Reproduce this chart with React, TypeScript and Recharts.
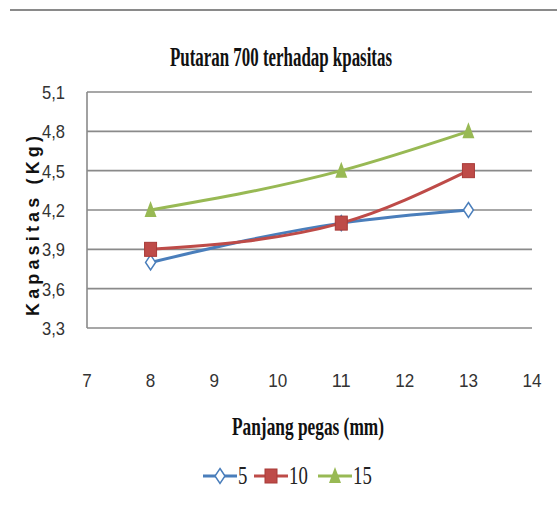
import React from 'react'
import { LineChart, Line, XAxis, YAxis, CartesianGrid, Legend } from 'recharts'

const xValues = [8, 11, 13]
const seriesNames = ['5', '10', '15']
const kapasitas5 = [3.8, 4.1, 4.2]
const kapasitas10 = [3.9, 4.1, 4.5]
const kapasitas15 = [4.2, 4.5, 4.8]
const xTicks = [7, 8, 9, 10, 11, 12, 13, 14]
const yTicks = [3.3, 3.6, 3.9, 4.2, 4.5, 4.8, 5.1]

const BLUE = '#4a7ebb'
const RED = '#be4b48'
const GREEN = '#98b954'
const GRID = '#8a8a8a'

const data = xValues.map((x, i) => ({
  x,
  s5: kapasitas5[i],
  s10: kapasitas10[i],
  s15: kapasitas15[i],
}))

const Diamond = ({ cx, cy }: { cx: number; cy: number }) => (
  <path
    d={`M${cx},${cy - 7.5}L${cx + 5},${cy}L${cx},${cy + 7.5}L${cx - 5},${cy}Z`}
    fill="#fff"
    stroke={BLUE}
    strokeWidth={1.5}
  />
)
const Square = ({ cx, cy }: { cx: number; cy: number }) => (
  <rect x={cx - 6} y={cy - 7} width={12} height={14} fill={RED} stroke="#a83a37" strokeWidth={1} />
)
const Triangle = ({ cx, cy }: { cx: number; cy: number }) => (
  <path d={`M${cx},${cy - 9}L${cx + 6},${cy + 7}L${cx - 6},${cy + 7}Z`} fill={GREEN} />
)

const markers = [Diamond, Square, Triangle]
const colors = [BLUE, RED, GREEN]
const keys = ['s5', 's10', 's15']

const dotFor = (idx: number) => (props: any) => {
  const { cx, cy, index } = props
  if (cx == null || cy == null) return <g key={index} />
  const M = markers[idx]
  return <M key={index} cx={cx} cy={cy} />
}

const renderLegend = () => (
  <div style={{ display: 'flex', justifyContent: 'center', gap: 8, marginLeft: 20 }}>
    {seriesNames.map((name, i) => {
      const M = markers[i]
      return (
        <div key={name} style={{ display: 'flex', alignItems: 'center' }}>
          <svg width={34} height={22}>
            <line x1={0} y1={11} x2={34} y2={11} stroke={colors[i]} strokeWidth={3} />
            <M cx={17} cy={11} />
          </svg>
          <span
            style={{
              fontFamily: '"Liberation Serif", serif',
              fontSize: 25,
              color: '#222',
              transform: 'scaleX(0.75)',
              transformOrigin: 'left center',
              display: 'inline-block',
              marginLeft: 1,
              marginRight: -4,
            }}
          >
            {name}
          </span>
        </div>
      )
    })}
  </div>
)

const YTick = ({ x, y, payload }: any) => (
  <text
    x={x - 14}
    y={y}
    dy="0.36em"
    textAnchor="end"
    fontFamily='"Liberation Sans", sans-serif'
    fontSize={19}
    textLength={23}
    lengthAdjust="spacingAndGlyphs"
    fill="#333"
  >
    {String(payload.value).replace('.', ',')}
  </text>
)

const XTick = ({ x, y, payload }: any) => (
  <text
    x={x}
    y={y + 44}
    dy="0.36em"
    textAnchor="middle"
    fontFamily='"Liberation Sans", sans-serif'
    fontSize={19}
    textLength={String(payload.value).length * 9.5}
    lengthAdjust="spacingAndGlyphs"
    fill="#333"
  >
    {payload.value}
  </text>
)

export default function App() {
  return (
    <div style={{ position: 'absolute', left: 0, top: 0, width: 557, height: 511, background: '#fff' }}>
      <LineChart
        width={557}
        height={511}
        data={data}
        margin={{ top: 92, right: 25, bottom: 123, left: 0 }}
      >
        <line x1={10} y1={10} x2={557} y2={10} stroke="#8a8a8a" strokeWidth={2} />
        <text
          x={281}
          y={56}
          dy="0.36em"
          textAnchor="middle"
          fontFamily='"Liberation Serif", serif'
          fontWeight="bold"
          fontSize={27}
          textLength={222}
          lengthAdjust="spacingAndGlyphs"
          fill="#111"
        >
          Putaran 700 terhadap kpasitas
        </text>
        <text
          x={308}
          y={426}
          dy="0.36em"
          textAnchor="middle"
          fontFamily='"Liberation Serif", serif'
          fontWeight="bold"
          fontSize={26}
          textLength={152}
          lengthAdjust="spacingAndGlyphs"
          fill="#111"
        >
          Panjang pegas (mm)
        </text>
        <text
          x={33}
          y={226}
          dy="0.36em"
          textAnchor="middle"
          transform="rotate(-90 33 226)"
          fontFamily='"Liberation Sans", Arial, sans-serif'
          fontWeight="bold"
          fontSize={18}
          textLength={180}
          lengthAdjust="spacing"
          fill="#111"
        >
          Kapasitas (Kg)
        </text>
        <CartesianGrid horizontal vertical={false} stroke={GRID} strokeWidth={1.6} />
        <XAxis
          dataKey="x"
          type="number"
          domain={[7, 14]}
          ticks={xTicks}
          axisLine={false}
          tickLine={false}
          height={60}
          tick={<XTick />}
          interval={0}
        />
        <YAxis
          type="number"
          domain={[3.3, 5.1]}
          ticks={yTicks}
          width={87}
          axisLine={{ stroke: GRID, strokeWidth: 1.6 }}
          tickLine={false}
          tick={<YTick />}
          interval={0}
        />
        {keys.map((k, i) => (
          <Line
            key={k}
            type="monotone"
            dataKey={k}
            name={seriesNames[i]}
            stroke={colors[i]}
            strokeWidth={3}
            dot={dotFor(i)}
            activeDot={false}
            isAnimationActive={false}
          />
        ))}
        <Legend
          layout="horizontal"
          verticalAlign="middle"
          align="center"
          content={renderLegend}
          wrapperStyle={{ top: 462, left: 0, width: 557 }}
        />
      </LineChart>
    </div>
  )
}
